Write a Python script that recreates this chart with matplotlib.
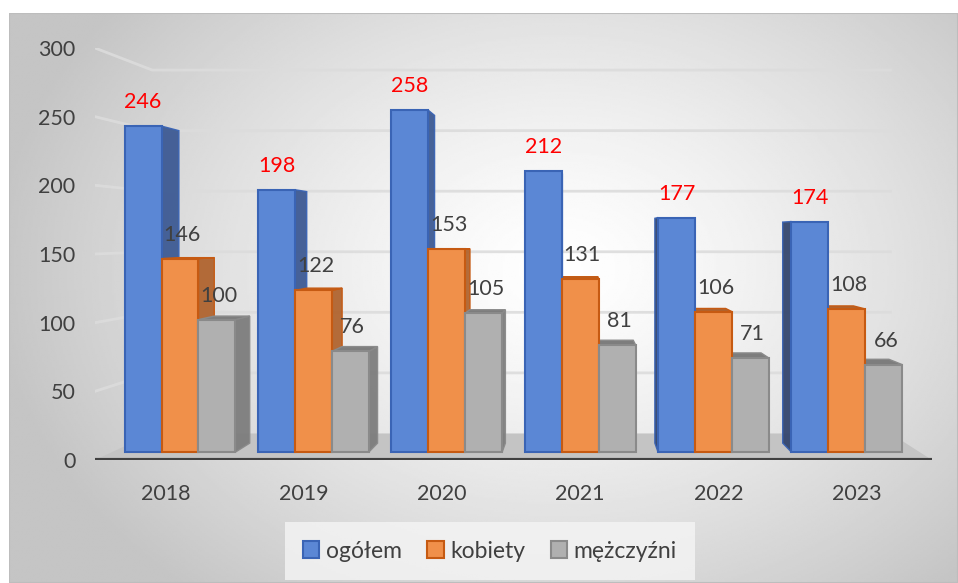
import numpy as np
import matplotlib.pyplot as plt
from matplotlib.patches import Polygon, Patch, Rectangle

plt.rcParams['font.family'] = ['Lato', 'DejaVu Sans']

years = ["2018", "2019", "2020", "2021", "2022", "2023"]
ogolem = [246, 198, 258, 212, 177, 174]
kobiety = [146, 122, 153, 131, 106, 108]
mezczyzni = [100, 76, 105, 81, 71, 66]
series_names = ["ogółem", "kobiety", "mężczyźni"]

front_cols = ["#5B87D5", "#F0904A", "#B0B0B0"]
edge_cols = ["#3A64B5", "#C65A12", "#8A8A8A"]
side_cols = ["#3D5A94", "#B0642F", "#7D7D7D"]
label_cols = ["red", "#404040", "#404040"]

W, H = 958, 583
fig = plt.figure(figsize=(W / 100, H / 100), dpi=100)

# background with radial gradient
bg = fig.add_axes([9 / W, 0, (W - 9) / W, (H - 13) / H])
yy, xx = np.mgrid[0:1:300j, 0:1:500j]
r = np.sqrt(((xx - 0.58) / 0.6) ** 2 + ((yy - 0.45) / 0.75) ** 2)
val = 1 - 0.23 * np.clip(r, 0, 1) ** 1.3
bg.imshow(val, cmap="gray", vmin=0, vmax=1, aspect="auto", extent=[0, 1, 0, 1], origin="upper")
bg.add_patch(Rectangle((0, 0), 1, 1, fill=False, edgecolor="#BDBDBD", lw=1.5, transform=bg.transAxes))
bg.axis("off")
bg.set_zorder(-10)

ax = fig.add_axes([95 / W, 123 / H, 837 / W, 412 / H])
ax.patch.set_alpha(0)
xl, xr = -0.510, 5.546
ax.set_xlim(xl, xr)
ax.set_ylim(0, 300)
for s in ax.spines.values():
    s.set_visible(False)

# perspective: shrink toward vanishing point
VX, VY = 3.0, 163.8


def pt(x, y, s):
    return (x + s * (VX - x), y + s * (VY - y))


S_WALL = 0.118
S_F, S_B = 0.035, 0.075

# floor
floor = [pt(xl, 0, 0), pt(xr, 0, 0), pt(xr, 0, S_WALL), pt(xl, 0, S_WALL)]
ax.add_patch(Polygon(floor, closed=True, facecolor="#C4C4C4", edgecolor="none", zorder=1))
ax.plot([xl, xr], [0, 0], color="#404040", lw=3, zorder=1.5, solid_capstyle="butt")

# gridlines on left wall and back wall
for g in range(50, 301, 50):
    p = [pt(xl, g, 0), pt(xl, g, S_WALL), pt(xr, g, S_WALL)]
    ax.plot([q[0] for q in p], [q[1] for q in p], color="#DCDCDC", lw=2, zorder=0.5, alpha=0.9)

w = 0.277
data = [ogolem, kobiety, mezczyzni]
for j, vals in enumerate(data):
    for i, v in enumerate(vals):
        xc = i + (j - 1) * w
        x0, x1 = xc - w / 2, xc + w / 2
        f = [pt(x0, 0, S_F), pt(x1, 0, S_F), pt(x1, v, S_F), pt(x0, v, S_F)]
        if xc < VX:
            side = [pt(x1, 0, S_F), pt(x1, v, S_F), pt(x1, v, S_B), pt(x1, 0, S_B)]
            sc = side_cols[j]
        else:
            side = [pt(x0, 0, S_F), pt(x0, v, S_F), pt(x0, v, S_B), pt(x0, 0, S_B)]
            sc = ["#34466E", "#9A5526", "#6E6E6E"][j]
        ax.add_patch(Polygon(side, closed=True, facecolor=sc, edgecolor=edge_cols[j],
                             lw=1, zorder=2, alpha=0.95))
        if v < VY:
            top = [pt(x0, v, S_F), pt(x1, v, S_F), pt(x1, v, S_B), pt(x0, v, S_B)]
            ax.add_patch(Polygon(top, closed=True, facecolor=side_cols[j], edgecolor=edge_cols[j],
                                 lw=1, zorder=2))
        ax.add_patch(Polygon(f, closed=True, facecolor=front_cols[j], edgecolor=edge_cols[j],
                             lw=1.5, zorder=3))
        lx, ly = pt(xc, v, S_F)
        ax.annotate(str(v), (lx, ly), xytext=(2 if j else 0, 24), textcoords="offset pixels",
                    ha="center", va="center", color=label_cols[j], fontsize=15.5, zorder=5)

ax.set_xticks(range(len(years)))
ax.set_xticklabels(years)
ax.set_yticks(range(0, 301, 50))
ax.tick_params(axis="both", length=0, labelsize=15.5, colors="#404040")
ax.tick_params(axis="y", pad=14)
ax.tick_params(axis="x", pad=17)

handles = [Patch(facecolor=front_cols[k], edgecolor=edge_cols[k], lw=1.5, label=series_names[k])
           for k in range(3)]
leg = fig.legend(handles=handles, loc="center", bbox_to_anchor=(490 / W, 1 - 551 / H), ncol=3,
                 frameon=True, fontsize=16.5, handlelength=0.7, handleheight=0.7,
                 handletextpad=0.3, columnspacing=1.1, borderpad=0.5)
leg.get_frame().set_facecolor("#F5F5F5")
leg.get_frame().set_edgecolor("none")
leg.get_frame().set_boxstyle("square")
for t in leg.get_texts():
    t.set_color("#404040")

fig.savefig("out.png", dpi=100)
